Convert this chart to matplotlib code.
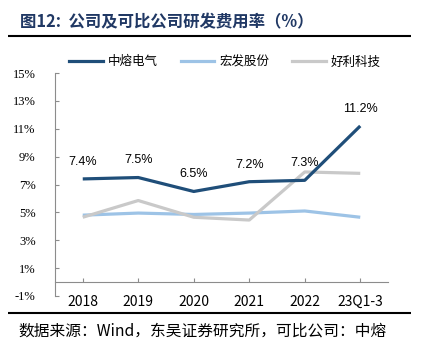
import matplotlib.pyplot as plt
from matplotlib.lines import Line2D

plt.rcParams['font.family'] = ['Noto Sans CJK SC', 'DejaVu Sans']

years = ['2018', '2019', '2020', '2021', '2022', '23Q1-3']
zhongrong = [7.4, 7.5, 6.5, 7.2, 7.3, 11.2]
hongfa = [4.8, 4.95, 4.85, 4.95, 5.1, 4.65]
haoli = [4.65, 5.85, 4.65, 4.45, 7.9, 7.8]
names = ['中熔电气', '宏发股份', '好利科技']
colors = ['#1F4E79', '#9DC3E6', '#C9C9C9']
yticks = [-1, 1, 3, 5, 7, 9, 11, 13, 15]

fig = plt.figure(figsize=(4.31, 3.56), dpi=100)

ax = fig.add_axes([55 / 431, 1 - 296 / 356, 333 / 431, 223 / 356])

x = list(range(len(years)))
lw = 2.3
# light series first so the dark line sits on top
ax.plot(x, hongfa, color=colors[1], lw=lw, solid_capstyle='butt', zorder=3)
ax.plot(x, haoli, color=colors[2], lw=lw, solid_capstyle='butt', zorder=4)
ax.plot(x, zhongrong, color=colors[0], lw=lw, solid_capstyle='butt', zorder=5)

for i, v in enumerate(zhongrong):
    ax.annotate(f'{v:.1f}%', (i, v), xytext=(0, 8), textcoords='offset points',
                ha='center', va='bottom', fontsize=9, family='Liberation Sans')

ax.set_xlim(-0.5, len(years) - 0.5)
ax.set_ylim(-1, 15)
ax.set_yticks(yticks)
ax.set_yticklabels([f'{t}%' for t in yticks], family='Liberation Serif', fontsize=9)
ax.set_xticks(x)
ax.set_xticklabels(years, family='Liberation Serif', fontsize=8.5)

for s in ['top', 'right']:
    ax.spines[s].set_visible(False)
ax.spines['left'].set_color('#8c8c8c')
ax.spines['bottom'].set_color('#8c8c8c')
ax.spines['bottom'].set_position(('data', 0))
ax.tick_params(axis='y', direction='in', length=3, color='#8c8c8c', pad=14)
ax.tick_params(axis='x', direction='in', length=3, color='#8c8c8c', pad=9)

handles = [Line2D([], [], color=c, lw=lw) for c in colors]
fig.legend(handles, names, loc='center', bbox_to_anchor=(0.522, 1 - 62 / 356),
           ncol=3, frameon=False, fontsize=9, handlelength=2.7,
           handletextpad=0.4, columnspacing=1.8)

fig.text(20 / 431, 1 - 22 / 356, '图12:  公司及可比公司研发费用率（%）',
         fontsize=11.8, fontweight='bold', color='#203864', va='center')
fig.text(18 / 431, 1 - 331 / 356, '数据来源：Wind，东吴证券研究所，可比公司：中熔',
         fontsize=11.3, color='black', va='center')

# horizontal rules under the title and above the source note (axes fraction coords)
left_f = (8 - 55) / 333
right_f = (411 - 55) / 333
for yy in [36, 313]:
    yf = (296 - yy) / 223
    ax.plot([left_f, right_f], [yf, yf], transform=ax.transAxes, clip_on=False,
            color='black', lw=1.5, solid_capstyle='butt')

fig.savefig('out.png', dpi=100)
